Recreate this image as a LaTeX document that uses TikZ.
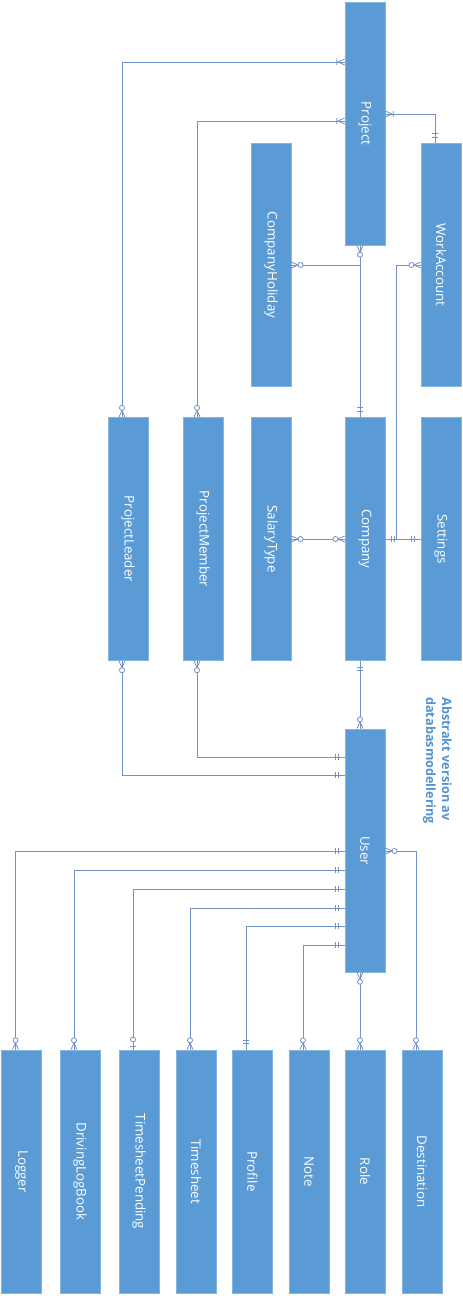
\documentclass[tikz,border=0pt]{standalone}
\usepackage{fontspec}
\setmainfont{Open Sans}
\usepackage{graphicx}
\usetikzlibrary{positioning,arrows.meta,calc}

\definecolor{erfill}{RGB}{91,155,213}
\definecolor{erlink}{RGB}{112,146,196}
\definecolor{ertitle}{RGB}{84,146,210}

% ER end markers (tip sits on the entity border)
\pgfdeclarearrow{
  name = ERone,
  setup code = {\pgfarrowssettipend{0pt}\pgfarrowssetlineend{0pt}\pgfarrowssetbackend{-8pt}},
  drawing code = {
    \pgfpathmoveto{\pgfqpoint{-4.5pt}{2.25pt}}\pgfpathlineto{\pgfqpoint{-4.5pt}{-2.25pt}}
    \pgfpathmoveto{\pgfqpoint{-7pt}{2.25pt}}\pgfpathlineto{\pgfqpoint{-7pt}{-2.25pt}}
    \pgfusepathqstroke}
}
\pgfdeclarearrow{
  name = ERzmany,
  setup code = {\pgfarrowssettipend{0pt}\pgfarrowssetlineend{0pt}\pgfarrowssetbackend{-9pt}},
  drawing code = {
    \pgfpathmoveto{\pgfqpoint{0pt}{2.25pt}}\pgfpathlineto{\pgfqpoint{-5pt}{0pt}}\pgfpathlineto{\pgfqpoint{0pt}{-2.25pt}}
    \pgfusepathqstroke
    \pgfsetfillcolor{white}
    \pgfpathcircle{\pgfqpoint{-6.9pt}{0pt}}{1.9pt}
    \pgfusepathqfillstroke}
}
\pgfdeclarearrow{
  name = ERomany,
  setup code = {\pgfarrowssettipend{0pt}\pgfarrowssetlineend{0pt}\pgfarrowssetbackend{-7pt}},
  drawing code = {
    \pgfpathmoveto{\pgfqpoint{0pt}{2.25pt}}\pgfpathlineto{\pgfqpoint{-5pt}{0pt}}\pgfpathlineto{\pgfqpoint{0pt}{-2.25pt}}
    \pgfpathmoveto{\pgfqpoint{-6pt}{2.25pt}}\pgfpathlineto{\pgfqpoint{-6pt}{-2.25pt}}
    \pgfusepathqstroke}
}
\pgfdeclarearrow{
  name = ERzone,
  setup code = {\pgfarrowssettipend{0pt}\pgfarrowssetlineend{0pt}\pgfarrowssetbackend{-9.5pt}},
  drawing code = {
    \pgfpathmoveto{\pgfqpoint{-2.5pt}{2.25pt}}\pgfpathlineto{\pgfqpoint{-2.5pt}{-2.25pt}}
    \pgfusepathqstroke
    \pgfsetfillcolor{white}
    \pgfpathcircle{\pgfqpoint{-7.5pt}{0pt}}{1.9pt}
    \pgfusepathqfillstroke}
}

\begin{document}
\begin{tikzpicture}[x=0.75pt,y=-0.75pt,
  entity/.style={rectangle,fill=erfill,draw=erfill!75!white,line width=0.5pt,minimum width=30pt,minimum height=182.5pt,inner sep=0pt,text=white,font=\fontsize{10}{12}\selectfont},
  link/.style={draw=erlink,line width=0.6pt},
  zmomany/.style={arrows={ERzmany[]-ERomany[]}},
  omanyone/.style={arrows={ERomany[]-ERone[]}},
  zmone/.style={arrows={ERzmany[]-ERone[]}},
  zmzm/.style={arrows={ERzmany[]-ERzmany[]}},
  oneone/.style={arrows={ERone[]-ERone[]}},
  onezm/.style={arrows={ERone[]-ERzmany[]}},
  onezo/.style={arrows={ERone[]-ERzone[]}}]
\useasboundingbox (0,0) rectangle (463,1296);
% top entities
\node[entity] (project) at (365,123.5) {\rotatebox{-90}{Project}};
\node[entity] (ch) at (271,265) {\rotatebox{-90}{CompanyHoliday}};
\node[entity] (wa) at (441,265) {\rotatebox{-90}{WorkAccount}};
% middle row
\foreach \n/\x/\lab in {pl/128/ProjectLeader,pm/203/ProjectMember,st/271/SalaryType,company/365/Company,settings/441/Settings}{
  \node[entity] (\n) at (\x,539) {\rotatebox{-90}{\lab}};}
\node[entity] (user) at (365,850.5) {\rotatebox{-90}{User}};
% bottom row
\foreach \n/\x/\lab in {logger/21.5/Logger,dlb/80/DrivingLogBook,tsp/139/TimesheetPending,ts/196/Timesheet,profile/252.3/Profile,note/309/Note,role/365/Role,dest/422/Destination}{
  \node[entity] (\n) at (\x,1171.5) {\rotatebox{-90}{\lab}};}
% title
\node[rotate=-90,anchor=north west,align=left,inner sep=0pt,text=ertitle,font=\bfseries\fontsize{9.5}{12}\selectfont] (title) at (452,697) {Abstrakt version av\\databasmodellering};
% project links
\draw[link,zmomany] ([xshift=-4.5pt]pl.north) |- (project.west |- 0,62);
\draw[link,zmomany] ([xshift=-4.5pt]pm.north) |- (project.west |- 0,121);
\draw[link,omanyone] (project.east |- 0,114) -| ([xshift=-4.5pt]wa.north);
% company links
\draw[link,zmone] ([xshift=-3.75pt]project.south) -- ([xshift=-3.75pt]company.north);
\draw[link,zmone] (ch.east) -| ([xshift=-3.75pt]company.north);
\draw[link,zmone] (wa.west) -| ([xshift=8.25pt]company.east) -- (company.east);
\draw[link,oneone] (company.east) -- (settings.west);
\draw[link,zmzm] (st.east) -- (company.west);
% user links
\draw[link,onezm] ([xshift=-3.75pt]company.south) -- ([xshift=-3.75pt]user.north);
\draw[link,zmone] ([xshift=-4.5pt]pl.south) |- (user.west |- 0,775);
\draw[link,zmone] ([xshift=-4.5pt]pm.south) |- (user.west |- 0,757);
\foreach \n/\y/\card in {logger/851/onezm,dlb/870/onezm,tsp/889/onezo,ts/908/onezm,profile/926/oneone,note/945/onezm}{
  \draw[link,\card] (user.west |- 0,\y) -| ([xshift=-4.5pt]\n.north);}
\draw[link,zmzm] ([xshift=-3.75pt]user.south) -- ([xshift=-3.75pt]role.north);
\draw[link,zmzm] (user.east |- 0,851) -| ([xshift=-4.5pt]dest.north);
\end{tikzpicture}
\end{document}
